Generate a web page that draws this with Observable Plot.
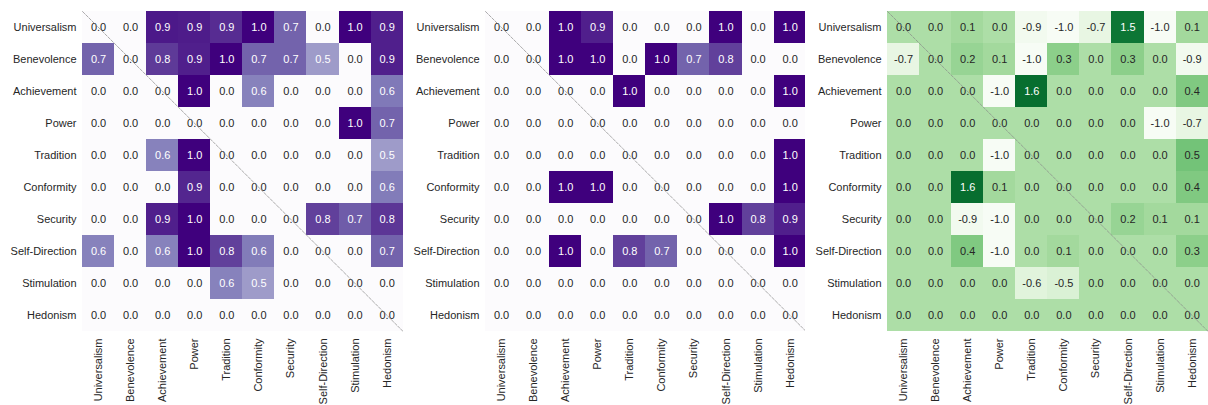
<!DOCTYPE html>
<html>
<head>
<meta charset="utf-8">
<script src="https://cdn.jsdelivr.net/npm/d3@7"></script>
<script src="https://cdn.jsdelivr.net/npm/@observablehq/plot@0.6"></script>
<style>
  html, body { margin: 0; padding: 0; background: #fff; }
  #row { display: flex; flex-direction: row; width: 1208px; height: 405px; overflow: hidden; }
  #row > div { flex: 0 0 auto; }
</style>
</head>
<body>
<div id="row"></div>
<script>
const categories = ["Universalism", "Benevolence", "Achievement", "Power", "Tradition",
  "Conformity", "Security", "Self-Direction", "Stimulation", "Hedonism"];

const valuesA = [
  [0.0, 0.0, 0.92, 0.91, 0.86, 1.0, 0.7, 0.0, 1.0, 0.9],
  [0.7, 0.0, 0.82, 0.9, 1.0, 0.7, 0.7, 0.5, 0.0, 0.9],
  [0.0, 0.0, 0.0, 1.0, 0.0, 0.6, 0.0, 0.0, 0.0, 0.63],
  [0.0, 0.0, 0.0, 0.0, 0.0, 0.0, 0.0, 0.0, 1.0, 0.7],
  [0.0, 0.0, 0.6, 1.0, 0.0, 0.0, 0.0, 0.0, 0.0, 0.5],
  [0.0, 0.0, 0.0, 0.88, 0.0, 0.0, 0.0, 0.0, 0.0, 0.62],
  [0.0, 0.0, 0.9, 1.0, 0.0, 0.0, 0.0, 0.8, 0.72, 0.83],
  [0.6, 0.0, 0.6, 1.0, 0.8, 0.62, 0.0, 0.0, 0.0, 0.7],
  [0.0, 0.0, 0.0, 0.0, 0.6, 0.5, 0.0, 0.0, 0.0, 0.0],
  [0.0, 0.0, 0.0, 0.0, 0.0, 0.0, 0.0, 0.0, 0.0, 0.0]
];

const valuesB = [
  [0.0, 0.0, 1.0, 0.9, 0.0, 0.0, 0.0, 1.0, 0.0, 1.0],
  [0.0, 0.0, 1.0, 1.0, 0.0, 1.0, 0.7, 0.8, 0.0, 0.0],
  [0.0, 0.0, 0.0, 0.0, 1.0, 0.0, 0.0, 0.0, 0.0, 1.0],
  [0.0, 0.0, 0.0, 0.0, 0.0, 0.0, 0.0, 0.0, 0.0, 0.0],
  [0.0, 0.0, 0.0, 0.0, 0.0, 0.0, 0.0, 0.0, 0.0, 1.0],
  [0.0, 0.0, 1.0, 1.0, 0.0, 0.0, 0.0, 0.0, 0.0, 1.0],
  [0.0, 0.0, 0.0, 0.0, 0.0, 0.0, 0.0, 1.0, 0.8, 0.9],
  [0.0, 0.0, 1.0, 0.0, 0.8, 0.7, 0.0, 0.0, 0.0, 1.0],
  [0.0, 0.0, 0.0, 0.0, 0.0, 0.0, 0.0, 0.0, 0.0, 0.0],
  [0.0, 0.0, 0.0, 0.0, 0.0, 0.0, 0.0, 0.0, 0.0, 0.0]
];

const valuesC = [
  [0.0, 0.0, 0.1, 0.0, -0.9, -1.0, -0.7, 1.5, -1.0, 0.1],
  [-0.7, 0.0, 0.2, 0.1, -1.0, 0.3, 0.0, 0.3, 0.0, -0.9],
  [0.0, 0.0, 0.0, -1.0, 1.6, 0.0, 0.0, 0.0, 0.0, 0.4],
  [0.0, 0.0, 0.0, 0.0, 0.0, 0.0, 0.0, 0.0, -1.0, -0.7],
  [0.0, 0.0, 0.0, -1.0, 0.0, 0.0, 0.0, 0.0, 0.0, 0.5],
  [0.0, 0.0, 1.6, 0.1, 0.0, 0.0, 0.0, 0.0, 0.0, 0.4],
  [0.0, 0.0, -0.9, -1.0, 0.0, 0.0, 0.0, 0.2, 0.1, 0.1],
  [0.0, 0.0, 0.4, -1.0, 0.0, 0.1, 0.0, 0.0, 0.0, 0.3],
  [0.0, 0.0, 0.0, 0.0, -0.6, -0.5, 0.0, 0.0, 0.0, 0.0],
  [0.0, 0.0, 0.0, 0.0, 0.0, 0.0, 0.0, 0.0, 0.0, 0.0]
];

const textDark = "#262626";
const n = categories.length;
const tickPos = categories.map((_, i) => i + 0.5);
const fmt = v => v.toFixed(1);

function heat(values, scheme, domain, isLight) {
  const data = values.flatMap((row, i) => row.map((v, j) => ({row: i, col: j, v})));
  return Plot.plot({
    width: 1208 / 3,
    height: 405,
    marginLeft: 82,
    marginRight: 0,
    marginTop: 11,
    marginBottom: 74,
    style: {fontFamily: "'Liberation Sans', Arial, sans-serif", fontSize: "11px", color: textDark, background: "#fff", overflow: "visible"},
    x: {domain: [0, n], ticks: tickPos, tickSize: 0, tickPadding: 7, tickRotate: -90,
        tickFormat: d => categories[Math.floor(d)], label: null},
    y: {domain: [0, n], reverse: true, ticks: tickPos, tickSize: 0, tickPadding: 6,
        tickFormat: d => categories[Math.floor(d)], label: null},
    color: {type: "linear", scheme, domain},
    marks: [
      Plot.rect(data, {x1: "col", x2: d => d.col + 1, y1: "row", y2: d => d.row + 1,
        fill: "v", inset: 0, shapeRendering: "crispEdges"}),
      Plot.text(data.filter(d => isLight(d.v)), {x: d => d.col + 0.5, y: d => d.row + 0.5,
        text: d => fmt(d.v), fill: "#ffffff", fontSize: 11}),
      Plot.text(data.filter(d => !isLight(d.v)), {x: d => d.col + 0.5, y: d => d.row + 0.5,
        text: d => fmt(d.v), fill: textDark, fontSize: 11}),
      Plot.line([[0, 0], [n, n]], {x: d => d[0], y: d => d[1], stroke: "#888",
        strokeWidth: 0.7, strokeDasharray: "3,1.5"})
    ]
  });
}

const row = document.getElementById("row");
[
  heat(valuesA, "purples", [0, 1], v => v >= 0.45),
  heat(valuesB, "purples", [0, 1], v => v >= 0.45),
  heat(valuesC, "greens", [-1, 2], v => v >= 1.0)
].forEach(p => {
  const d = document.createElement("div");
  d.appendChild(p);
  row.appendChild(d);
});
</script>
</body>
</html>
